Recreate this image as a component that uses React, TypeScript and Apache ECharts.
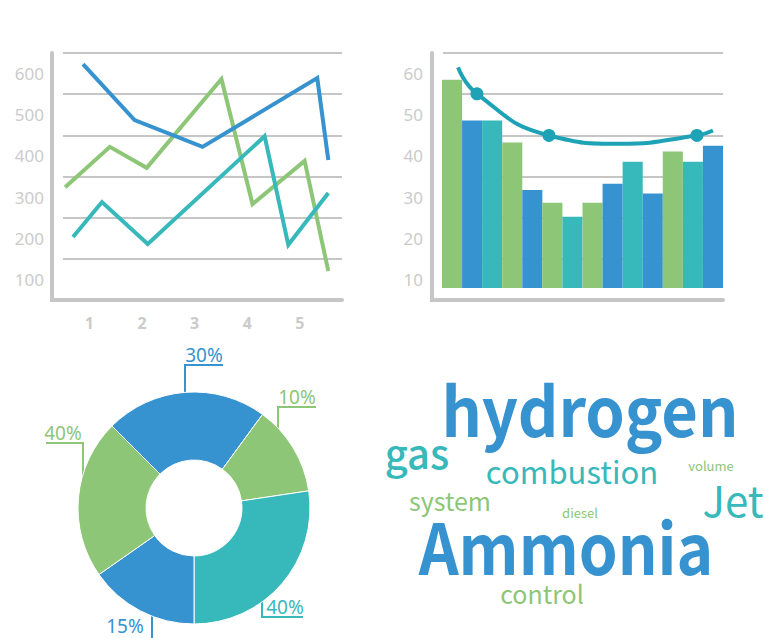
import React, { useEffect, useRef } from 'react';
import * as echarts from 'echarts';

// ---------- palette ----------
const BLUE = '#3792d0';
const GREEN = '#8dc677';
const TEAL = '#37b8ba';
const CURVE = '#1da3b5';
const GRAY = '#c6c6c6';
const LABEL_GRAY = '#cbcbcb';

// ---------- line chart data ----------
const lineXTicks = [1, 2, 3, 4, 5];
const lineYTicks = [100, 200, 300, 400, 500, 600];
const blueLineX = [0.88, 1.86, 3.15, 5.33, 5.54];
const blueLineY = [623, 487, 422, 589, 390];
const greenLineX = [0.54, 1.39, 2.09, 3.51, 4.1, 5.09, 5.54];
const greenLineY = [324, 422, 371, 587, 283, 388, 120];
const tealLineX = [0.69, 1.24, 2.11, 4.33, 4.78, 5.54];
const tealLineY = [203, 288, 186, 448, 184, 310];

// ---------- bar chart data ----------
const barYTicks = [10, 20, 30, 40, 50, 60];
const barValues = [58.5, 48.6, 48.6, 43.3, 31.8, 28.7, 25.3, 28.7, 33.3, 38.6, 30.9, 41.1, 38.6, 42.5];
const barGroups = ['g', 'b', 't', 'g', 'b', 'g', 't', 'g', 'b', 't', 'b', 'g', 't', 'b'];
const curveX = [0.8, 1.74, 5.33, 8.87, 12.7, 13.5];
const curveY = [61.5, 55.1, 45, 43, 45, 46.2];
const curveDots = [false, true, true, false, true, false];

// ---------- donut data ----------
const pieShares = [81.2, 45.3, 98.5, 55, 80];
const pieLabels = ['30%', '10%', '40%', '15%', '40%'];
const pieGroups = ['b', 'g', 't', 'b', 'g'];

// ---------- word cloud data ----------
const words = ['hydrogen', 'Ammonia', 'gas', 'combustion', 'Jet', 'system', 'control', 'volume', 'diesel'];
const wordWeights = [68, 70, 40, 31, 42, 25, 25, 13, 13];
const wordGroups = ['b', 'b', 't', 't', 't', 'g', 'g', 'g', 'g'];

const groupColor = (g: string) => (g === 'b' ? BLUE : g === 'g' ? GREEN : TEAL);

// layout (positions kept out of the data arrays)
const PIE_CX = 194;
const PIE_CY = 508;
const PIE_R = 116;
const PIE_LEADERS = [
  { vx: 185, hy: 365, hx: 223, tx: 204, ty: 355 },
  { vx: 278, hy: 407, hx: 316, tx: 297, ty: 397 },
  { vx: 262, hy: 617, hx: 303, tx: 285, ty: 607 },
  { vx: 152, hy: 641, hx: 108, tx: 125, ty: 626 },
  { vx: 83, hy: 443, hx: 46, tx: 63, ty: 433 },
];
// [centre x, baseline y, weight, horizontal scale]
const WORD_PLACE: [number, number, string, number][] = [
  [590, 435, 'bold', 0.93],
  [566, 572, 'bold', 0.89],
  [417, 468, '500', 1],
  [572, 483, 'normal', 1],
  [733, 515, 'normal', 1],
  [450, 510, 'normal', 1],
  [542, 603, 'normal', 1],
  [711, 471, 'normal', 1],
  [580, 518, 'normal', 1],
];
const CENTRAL = 0.4;

const zip = (xs: number[], ys: number[]) => xs.map((x, i) => [x, ys[i]]);

function buildOption(): any {
  const tickLabel = { color: LABEL_GRAY, fontFamily: 'Noto Sans', fontSize: 17 };
  const axisLineStyle = { show: true, onZero: false, lineStyle: { color: GRAY, width: 4 } };
  const noTick = { show: false };

  const lineSeries = (xs: number[], ys: number[], c: string) => ({
    type: 'line',
    xAxisIndex: 0,
    yAxisIndex: 0,
    data: zip(xs, ys),
    symbol: 'none',
    showSymbol: false,
    lineStyle: { color: c, width: 4, join: 'miter', cap: 'butt' },
    itemStyle: { color: c },
    z: 3,
  });

  const graphic: any[] = [
    { type: 'rect', shape: { x: 50, y: 298, width: 14, height: 4 }, style: { fill: GRAY } },
    { type: 'rect', shape: { x: 430, y: 298, width: 14, height: 4 }, style: { fill: GRAY } },
  ];
  words.forEach((w, i) => {
    const [cx, base, weight, sx] = WORD_PLACE[i];
    const fs = wordWeights[i];
    graphic.push({
      type: 'text',
      x: cx,
      y: base - CENTRAL * fs,
      scaleX: sx,
      style: {
        text: w,
        fill: groupColor(wordGroups[i]),
        fontSize: fs,
        fontWeight: weight,
        fontFamily: '"Noto Sans CJK SC"',
        lineHeight: Math.round(fs * 0.7),
        align: 'center',
        verticalAlign: 'middle',
        textAlign: 'center',
        textVerticalAlign: 'middle',
      },
    });
  });

  return {
    animation: false,
    backgroundColor: '#ffffff',
    grid: [
      { left: 63, top: 53, width: 279, height: 247 },
      { left: 443, top: 53, width: 280, height: 247 },
      { left: 442, top: 53, width: 281, height: 235 },
    ],
    xAxis: [
      {
        gridIndex: 0,
        type: 'value',
        min: 0.5,
        max: 5.8,
        interval: 0.5,
        axisLine: axisLineStyle,
        axisTick: noTick,
        splitLine: { show: false },
        axisLabel: {
          ...tickLabel,
          fontSize: 16,
          fontWeight: 'bold',
          margin: 15,
          formatter: (v: number) => (lineXTicks.includes(v) ? String(v) : ''),
        },
      },
      {
        gridIndex: 1,
        type: 'value',
        min: 0,
        max: 1,
        axisLine: axisLineStyle,
        axisTick: noTick,
        splitLine: { show: false },
        axisLabel: { show: false },
      },
      {
        gridIndex: 2,
        type: 'category',
        data: barValues.map((_, i) => String(i + 1)),
        show: false,
      },
      { gridIndex: 2, type: 'value', min: 0, max: 14, show: false },
    ],
    yAxis: [
      {
        gridIndex: 0,
        type: 'value',
        min: 50,
        max: 650,
        interval: 50,
        offset: 11,
        axisLine: axisLineStyle,
        axisTick: noTick,
        splitLine: { show: false },
        axisLabel: {
          ...tickLabel,
          margin: 8,
          formatter: (v: number) => (lineYTicks.includes(v) ? String(v) : ''),
        },
      },
      {
        gridIndex: 0,
        type: 'value',
        position: 'left',
        min: 50,
        max: 650,
        interval: 100,
        axisLine: { show: false },
        axisTick: noTick,
        axisLabel: { show: false },
        splitLine: { show: true, lineStyle: { color: GRAY, width: 2 } },
      },
      {
        gridIndex: 1,
        type: 'value',
        min: 5,
        max: 65,
        interval: 5,
        offset: 11,
        axisLine: axisLineStyle,
        axisTick: noTick,
        splitLine: { show: false },
        axisLabel: {
          ...tickLabel,
          margin: 9,
          formatter: (v: number) => (barYTicks.includes(v) ? String(v) : ''),
        },
      },
      {
        gridIndex: 1,
        type: 'value',
        position: 'left',
        min: 5,
        max: 65,
        interval: 10,
        axisLine: { show: false },
        axisTick: noTick,
        axisLabel: { show: false },
        splitLine: { show: true, lineStyle: { color: GRAY, width: 2 } },
      },
      { gridIndex: 2, type: 'value', min: 8, max: 65, show: false },
    ],
    series: [
      lineSeries(greenLineX, greenLineY, GREEN),
      lineSeries(tealLineX, tealLineY, TEAL),
      lineSeries(blueLineX, blueLineY, BLUE),
      {
        type: 'bar',
        xAxisIndex: 2,
        yAxisIndex: 4,
        barWidth: '100%',
        barCategoryGap: '0%',
        clip: true,
        data: barValues.map((v, i) => ({ value: v, itemStyle: { color: groupColor(barGroups[i]) } })),
        z: 3,
      },
      {
        type: 'line',
        xAxisIndex: 3,
        yAxisIndex: 4,
        smooth: 0.5,
        showSymbol: true,
        symbolSize: 13,
        data: curveX.map((x, i) => ({
          value: [x, curveY[i]],
          symbol: curveDots[i] ? 'circle' : 'none',
        })),
        lineStyle: { color: CURVE, width: 4 },
        itemStyle: { color: CURVE },
        z: 5,
      },
      {
        type: 'pie',
        center: [PIE_CX, PIE_CY],
        radius: [48, PIE_R],
        startAngle: 135,
        clockwise: true,
        avoidLabelOverlap: false,
        itemStyle: { borderColor: '#ffffff', borderWidth: 1 },
        label: {
          show: true,
          position: 'outside',
          fontFamily: 'Noto Sans',
          fontSize: 19,
          formatter: (p: any) => pieLabels[p.dataIndex],
        },
        labelLine: { show: true, length: 10, length2: 10, lineStyle: { width: 2 } },
        labelLayout: (p: any) => {
          const L = PIE_LEADERS[p.dataIndex];
          const dx = L.vx - PIE_CX;
          const r = PIE_R - 1;
          const dy = Math.sqrt(Math.max(0, r * r - dx * dx));
          const ey = L.hy < PIE_CY ? PIE_CY - dy : PIE_CY + dy;
          return {
            x: L.tx,
            y: L.ty,
            align: 'center',
            verticalAlign: 'middle',
            labelLinePoints: [
              [L.vx, ey],
              [L.vx, L.hy],
              [L.hx, L.hy],
            ],
          };
        },
        data: pieShares.map((v, i) => {
          const c = groupColor(pieGroups[i]);
          return {
            value: v,
            name: pieLabels[i] + '#' + i,
            itemStyle: { color: c },
            label: { color: c },
            labelLine: { lineStyle: { color: c, width: 2 } },
          };
        }),
      },
    ],
    graphic,
  };
}

export default function App() {
  const ref = useRef<HTMLDivElement>(null);
  useEffect(() => {
    if (!ref.current) return;
    const chart = echarts.init(ref.current, null, { renderer: 'svg' });
    chart.setOption(buildOption());
    return () => chart.dispose();
  }, []);
  return (
    <div
      ref={ref}
      style={{ position: 'fixed', left: 0, top: 0, width: 764, height: 638, background: '#ffffff' }}
    />
  );
}
